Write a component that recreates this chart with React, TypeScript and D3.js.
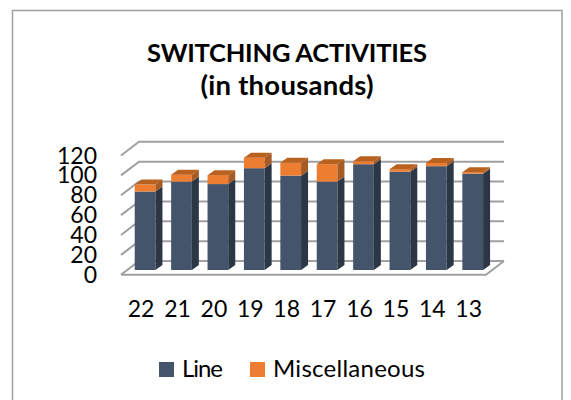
import React from "react";
import * as d3 from "d3";

const categories = ["22", "21", "20", "19", "18", "17", "16", "15", "14", "13"];
const lineValues = [79, 89, 86.5, 102.5, 95, 89, 106.5, 99, 104.5, 97];
const miscValues = [7, 7, 9, 10.5, 13, 17.5, 3, 2.5, 3.3, 1.5];
const yTicks = [0, 20, 40, 60, 80, 100, 120];
const titleLines = ["SWITCHING ACTIVITIES", "(in thousands)"];
const titleWidths = [280, 173];
const titleSizes = [25.5, 27.5];
const seriesNames = ["Line", "Miscellaneous"];

const W = 571, H = 400;
const FONT = "Lato, Carlito, sans-serif";
const frontLeft = 121, frontRight = 486, depthX = 18, depthY = 13.7;
const baseY = 270, floorY = 274.7;
const barDX = 7, barDY = 5;

const x = d3.scaleBand<string>().domain(categories).range([126.9, 490.9]).paddingInner(0.431).paddingOuter(0.215);
const y = d3.scaleLinear().domain([0, 120]).range([0, 119.2]);

const fills = {
  line: { front: "#44546a", side: "#2b3745", top: "#333f50" },
  misc: { front: "#ed7d31", side: "#a65a24", top: "#b9611f" },
};

function box(key: string, x0: number, w: number, yBottom: number, yTop: number, c: { front: string; side: string; top: string }, withTop: boolean) {
  const side = d3.path();
  side.moveTo(x0 + w, yBottom);
  side.lineTo(x0 + w + barDX, yBottom - barDY);
  side.lineTo(x0 + w + barDX, yTop - barDY);
  side.lineTo(x0 + w, yTop);
  side.closePath();
  const top = d3.path();
  top.moveTo(x0, yTop);
  top.lineTo(x0 + barDX, yTop - barDY);
  top.lineTo(x0 + w + barDX, yTop - barDY);
  top.lineTo(x0 + w, yTop);
  top.closePath();
  return (
    <g key={key}>
      <rect x={x0} y={yTop} width={w} height={yBottom - yTop} fill={c.front} />
      <path d={side.toString()} fill={c.side} />
      {withTop && <path d={top.toString()} fill={c.top} />}
    </g>
  );
}

export default function App() {
  const gridY = (v: number) => floorY - depthY - y(v);
  const tickY = (v: number) => floorY - y(v);
  const floor = d3.line()([
    [frontLeft, floorY],
    [frontRight, floorY],
    [frontRight + depthX, floorY - depthY],
  ]) as string;
  return (
    <svg width={W} height={H} style={{ position: "fixed", left: 0, top: 0, background: "#fff" }} fontFamily={FONT}>
      <path d={`M12.5,${H} V10.5 H562 V${H}`} fill="none" stroke="#a0a0a0" strokeWidth={1.5} />
      {titleLines.map((t, i) => (
        <text key={t} x={287} y={62 + i * 33} textAnchor="middle" fontSize={titleSizes[i]} fontWeight={700} fill="#000" textLength={titleWidths[i]} lengthAdjust="spacing">{t}</text>
      ))}
      {yTicks.map((v) => (
        <path key={v} d={d3.line()([[frontLeft, tickY(v)], [frontLeft + depthX, gridY(v)], [frontRight + depthX, gridY(v)]]) as string} stroke="#a0a0a0" strokeWidth={2} fill="none" />
      ))}
      <path d={floor} fill="none" stroke="#a0a0a0" strokeWidth={2} />
      {yTicks.map((v) => (
        <text key={v} x={97} y={tickY(v) + 8} textAnchor="end" fontSize={23} fill="#000">{v}</text>
      ))}
      {categories.map((c, i) => {
        const x0 = x(c)!;
        const w = x.bandwidth();
        const y1 = baseY - y(lineValues[i]);
        const y2 = baseY - y(lineValues[i] + miscValues[i]);
        return (
          <g key={c}>
            {box("l", x0, w, baseY, y1, fills.line, false)}
            {box("m", x0, w, y1, y2, fills.misc, true)}
            <text x={x0 + w / 2 - 4} y={317} textAnchor="middle" fontSize={23} fill="#000">{c}</text>
          </g>
        );
      })}
      <rect x={159} y={362} width={15} height={15} fill={fills.line.front} />
      <text x={182} y={377} fontSize={24} fill="#000" textLength={41} lengthAdjust="spacing">{seriesNames[0]}</text>
      <rect x={250} y={362} width={15} height={15} fill={fills.misc.front} />
      <text x={273} y={377} fontSize={24} fill="#000" textLength={152} lengthAdjust="spacing">{seriesNames[1]}</text>
    </svg>
  );
}
